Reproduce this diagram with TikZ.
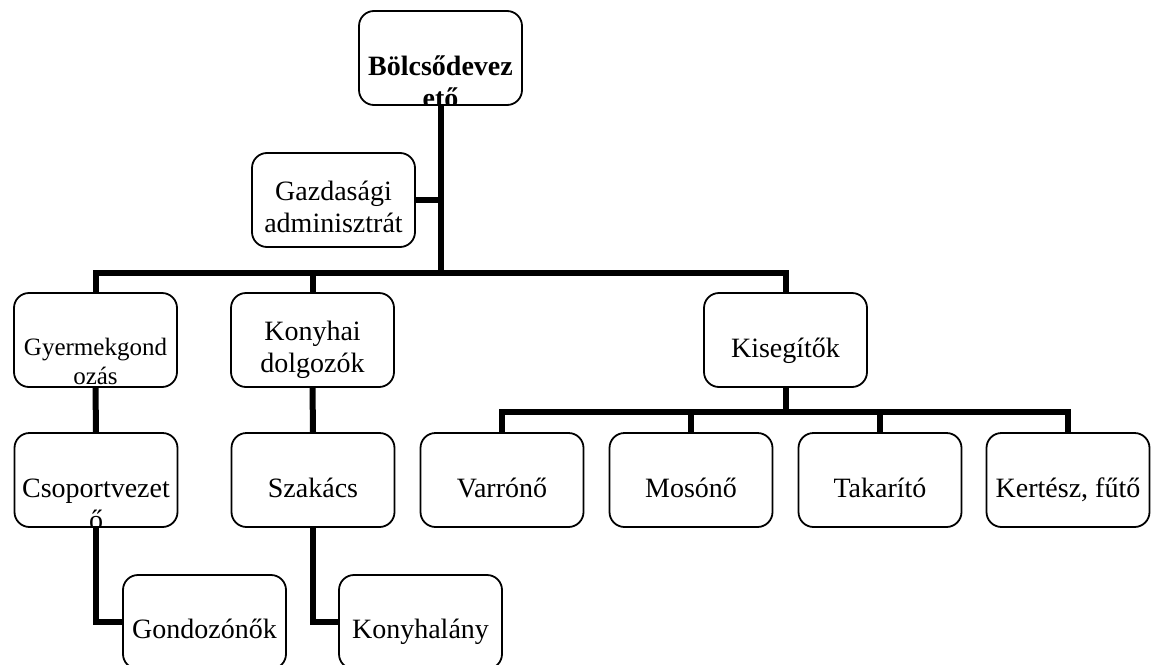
\documentclass[tikz,border=0pt]{standalone}
\usepackage{fontspec}
\setmainfont{Liberation Serif}
\usetikzlibrary{backgrounds}
\begin{document}
\begin{tikzpicture}[x=1pt,y=-1pt,
  box/.style={draw=black, line width=1.8pt, rounded corners=15pt, minimum width=163pt, minimum height=94pt, inner sep=0pt, fill=white},
  txt/.style={anchor=base, inner sep=0pt, font=\fontsize{28}{32}\selectfont},
  smalltxt/.style={anchor=base, inner sep=0pt, font=\fontsize{25}{29}\selectfont},
  boldtxt/.style={anchor=base, inner sep=0pt, font=\bfseries\fontsize{28}{32}\selectfont},
  conn/.style={draw=black, line width=6pt, line join=miter}]
\useasboundingbox (0,0) rectangle (1151,664);

% level 0
\node[box, path picture={
  \node[boldtxt, shift={(0,17)}] (top-a) at (path picture bounding box.center) {Bölcsődevez};
  \node[boldtxt, shift={(0,49)}] (top-b) at (path picture bounding box.center) {ető};
}] (top) at (440.5,58) {};

% assistant
\node[box, path picture={
  \node[txt, shift={(0,0)}] (gazd-a) at (path picture bounding box.center) {Gazdasági};
  \node[txt, shift={(0,32)}] (gazd-b) at (path picture bounding box.center) {adminisztrát};
}] (gazd) at (333.5,200) {};

% level 1
\node[box, path picture={
  \node[smalltxt, shift={(0,15)}] (gyer-a) at (path picture bounding box.center) {Gyermekgond};
  \node[smalltxt, shift={(0,44)}] (gyer-b) at (path picture bounding box.center) {ozás};
}] (gyer) at (95.5,340) {};

\node[box, path picture={
  \node[txt, shift={(0,0)}] (kony-a) at (path picture bounding box.center) {Konyhai};
  \node[txt, shift={(0,32)}] (kony-b) at (path picture bounding box.center) {dolgozók};
}] (kony) at (312.5,340) {};

\node[box, path picture={
  \node[txt, shift={(0,17)}] (kis-a) at (path picture bounding box.center) {Kisegítők};
}] (kis) at (785.5,340) {};

% level 2
\node[box, path picture={
  \node[txt, shift={(0,17)}] (csop-a) at (path picture bounding box.center) {Csoportvezet};
  \node[txt, shift={(0,49)}] (csop-b) at (path picture bounding box.center) {ő};
}] (csop) at (96,480) {};

\node[box, path picture={
  \node[txt, shift={(0,17)}] (szak-a) at (path picture bounding box.center) {Szakács};
}] (szak) at (313,480) {};

\node[box, path picture={
  \node[txt, shift={(0,17)}] (var-a) at (path picture bounding box.center) {Varrónő};
}] (var) at (502,480) {};

\node[box, path picture={
  \node[txt, shift={(0,17)}] (mos-a) at (path picture bounding box.center) {Mosónő};
}] (mos) at (691,480) {};

\node[box, path picture={
  \node[txt, shift={(0,17)}] (tak-a) at (path picture bounding box.center) {Takarító};
}] (tak) at (880,480) {};

\node[box, path picture={
  \node[txt, shift={(0,17)}] (ker-a) at (path picture bounding box.center) {Kertész, fűtő};
}] (ker) at (1068,480) {};

% level 3
\node[box, path picture={
  \node[txt, shift={(0,16)}] (gond-a) at (path picture bounding box.center) {Gondozónők};
}] (gond) at (204.5,622) {};

\node[box, path picture={
  \node[txt, shift={(0,16)}] (kl-a) at (path picture bounding box.center) {Konyhalány};
}] (kl) at (420.5,622) {};

\coordinate (j1) at (440.5,273);
\coordinate (j2) at (785.5,412);

\begin{scope}[on background layer]
  \draw[conn] (top.south) -- (j1);
  \draw[conn] (gazd.east) -- (gazd.east -| top.south);
  \draw[conn] (gyer.north) -- (gyer.north |- j1) -| (kis.north);
  \draw[conn] (kony.north) -- (kony.north |- j1);
  \draw[conn] (gyer.south) -- (csop.north);
  \draw[conn] (kony.south) -- (szak.north);
  \draw[conn] (csop.south) |- (gond.west);
  \draw[conn] (szak.south) |- (kl.west);
  \draw[conn] (kis.south) -- (j2);
  \draw[conn] (var.north) -- (var.north |- j2) -| (ker.north);
  \draw[conn] (mos.north) -- (mos.north |- j2);
  \draw[conn] (tak.north) -- (tak.north |- j2);
\end{scope}
\end{tikzpicture}
\end{document}
